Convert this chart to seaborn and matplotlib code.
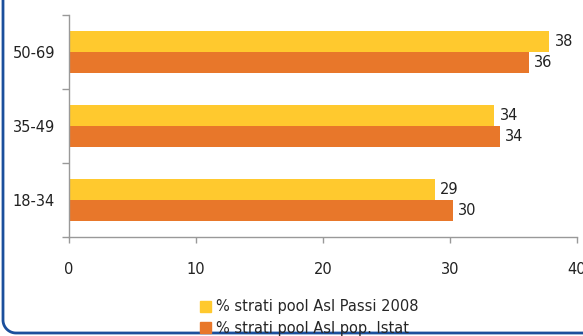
import numpy as np
import pandas as pd
import seaborn as sns
import matplotlib.pyplot as plt
from matplotlib.lines import Line2D

# age groups, top to bottom
categories = ["50-69", "35-49", "18-34"]
series_names = ["% strati pool Asl Passi 2008", "% strati pool Asl pop. Istat"]
passi_values = [37.8, 33.5, 28.8]
istat_values = [36.2, 33.9, 30.2]
x_ticks = [0, 10, 20, 30, 40]

colors = ["#FFC92E", "#E8772A"]

df = pd.DataFrame({
    "eta": categories * 2,
    "serie": [series_names[0]] * 3 + [series_names[1]] * 3,
    "valore": passi_values + istat_values,
})

sns.set_style("white")
plt.rcParams['font.family'] = ['DejaVu Sans']

W, H = 583, 336
fig = plt.figure(figsize=(W / 100, H / 100), dpi=100)
ax = fig.add_axes([69 / W, 1 - 237 / H, (577 - 69) / W, (237 - 15) / H])

sns.barplot(data=df, y="eta", x="valore", hue="serie", order=categories,
            hue_order=series_names, palette=colors, orient="h",
            width=0.57, saturation=1, linewidth=0, ax=ax, legend=False)

# value labels
for cont in ax.containers:
    ax.bar_label(cont, labels=[f"{v.get_width():.0f}" for v in cont],
                 padding=4, fontsize=10.5, color="#222222")

ax.set_xlim(0, 40)
ax.set_ylim(2.5, -0.5)
ax.set_xticks(x_ticks)
ax.set_xlabel("")
ax.set_ylabel("")

# ticks at category boundaries, labels at centres
ax.set_yticks([-0.5, 0.5, 1.5, 2.5], minor=True)
ax.tick_params(axis="y", which="major", length=0, pad=10, labelsize=10.5, labelcolor="#222222")
ax.tick_params(axis="y", which="minor", length=5, width=1, color="#999999", left=True)
ax.tick_params(axis="x", which="major", length=4, width=1, color="#999999", bottom=True,
               pad=14, labelsize=10.5, labelcolor="#222222")

for side in ["top", "right"]:
    ax.spines[side].set_visible(False)
for side in ["left", "bottom"]:
    ax.spines[side].set_color("#999999")
    ax.spines[side].set_linewidth(1)

# legend below the plot
handles = [plt.Rectangle((0, 0), 1, 1, color=c) for c in colors]
fig.legend(handles, series_names, loc="upper left", bbox_to_anchor=(193 / W, 1 - 292 / H),
           frameon=False, fontsize=10.5, handlelength=0.75, handleheight=0.75,
           handletextpad=0.3, labelspacing=0.45, borderpad=0)

# frame: left and bottom edges with a rounded corner (pixel coords)
r = 13
x0, yb = 3, 333
t = np.linspace(np.pi, 1.5 * np.pi, 20)
px = np.concatenate([[x0], x0 + r + r * np.cos(t), [W + 5]])
py = np.concatenate([[-5], yb - r - r * np.sin(t), [yb]])
fig.add_artist(Line2D(px / W, 1 - py / H, transform=fig.transFigure,
                      color="#1B4F9C", linewidth=2, solid_capstyle="butt"))

fig.savefig("out.png", dpi=100)
